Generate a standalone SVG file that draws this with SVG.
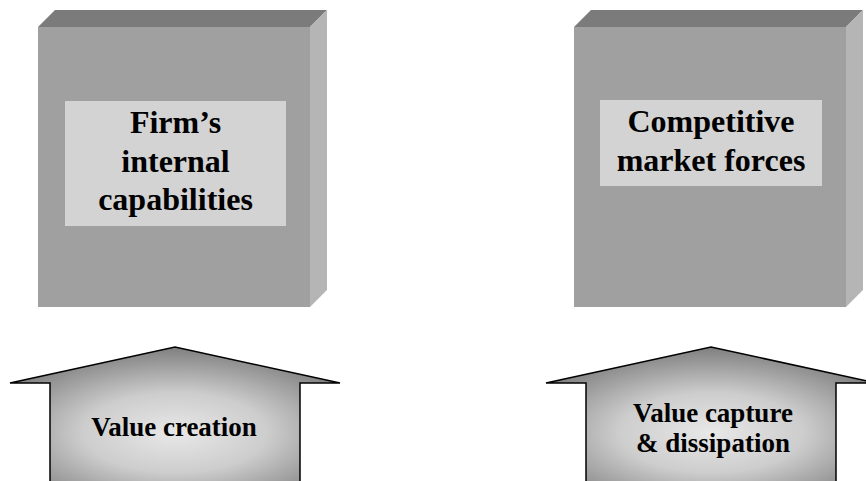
<svg xmlns="http://www.w3.org/2000/svg" width="866" height="481" viewBox="0 0 866 481">
  <style>
    .front { fill: #a0a0a0; }
    .top { fill: #7b7b7b; }
    .side { fill: #b5b5b5; }
    .label { fill: #d3d3d3; }
    .arrow { fill: url(#arrowShade); stroke: #000; stroke-width: 1.5; stroke-linejoin: miter; }
    .txt { font-family: "Liberation Serif", "Times New Roman", serif; font-weight: bold; fill: #000; text-anchor: middle; }
    .big { font-size: 32px; }
    .small { font-size: 27px; }
  </style>
  <defs>
    <radialGradient id="arrowShade" cx="0.5" cy="0.6" r="0.62" fx="0.5" fy="0.6">
      <stop offset="0" stop-color="#e8e8e8"/>
      <stop offset="0.45" stop-color="#cdcdcd"/>
      <stop offset="1" stop-color="#7a7a7a"/>
    </radialGradient>
  </defs>

  <!-- Block: firm's internal capabilities -->
  <g id="block-firm">
    <polygon class="top" points="38,27 55,10 327,10 310,27"/>
    <polygon class="side" points="310,27 327,10 327,290 310,307"/>
    <rect class="front" x="38" y="27" width="272" height="280"/>
    <rect class="label" x="65" y="101" width="221" height="125"/>
    <text class="txt big" x="175.5" y="133">Firm’s</text>
    <text class="txt big" x="175.5" y="172">internal</text>
    <text class="txt big" x="175.5" y="210">capabilities</text>
  </g>

  <!-- Block: competitive market forces -->
  <g id="block-market">
    <polygon class="top" points="574,27 591,10 863,10 846,27"/>
    <polygon class="side" points="846,27 863,10 863,290 846,307"/>
    <rect class="front" x="574" y="27" width="272" height="280"/>
    <rect class="label" x="600" y="100" width="222" height="86"/>
    <text class="txt big" x="711" y="132">Competitive</text>
    <text class="txt big" x="711" y="171">market forces</text>
  </g>

  <!-- Upward arrow: value creation -->
  <g id="arrow-creation">
    <polygon class="arrow" points="50,490 50,383 10,383 175,347 340,383 300,383 300,490"/>
    <text class="txt small" x="174" y="436">Value creation</text>
  </g>

  <!-- Upward arrow: value capture & dissipation -->
  <g id="arrow-capture">
    <polygon class="arrow" points="586,490 586,383 546,383 711,347 876,383 836,383 836,490"/>
    <text class="txt small" x="713" y="422">Value capture</text>
    <text class="txt small" x="713" y="452">&amp; dissipation</text>
  </g>

  <g id="connectors"/>
</svg>
